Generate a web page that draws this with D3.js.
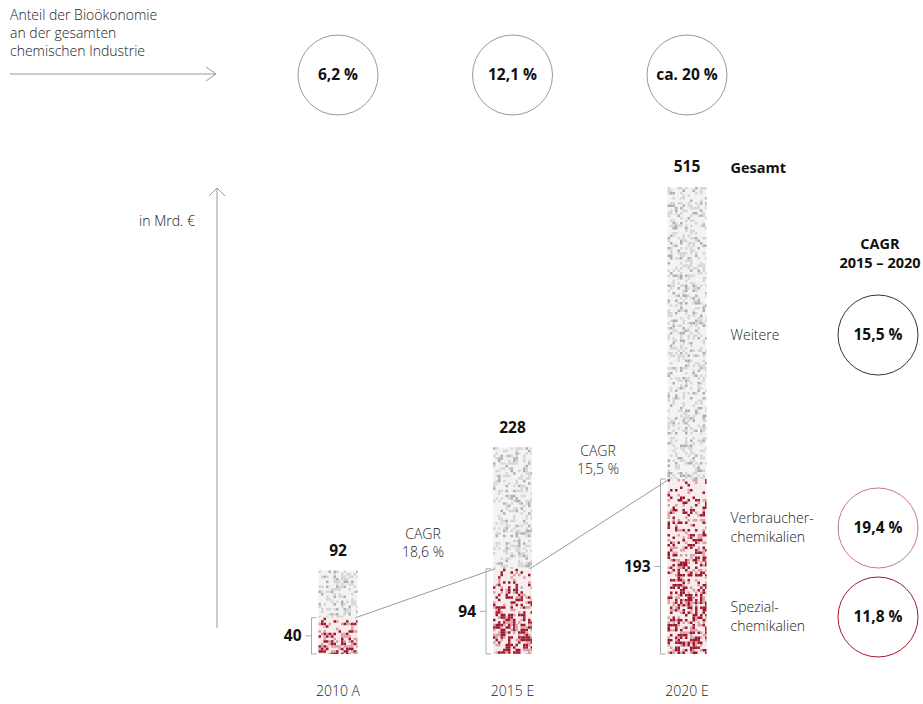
<!DOCTYPE html>
<html>
<head>
<meta charset="utf-8">
<script src="https://cdn.jsdelivr.net/npm/d3@7"></script>
<style>
  body { margin: 0; background: #fff; }
  svg { font-family: "Open Sans", "Noto Sans", sans-serif; }
  .lt { font-weight: 300; fill: #1a1a1a; }
  .bd { font-weight: 700; fill: #111; }
</style>
</head>
<body>
<svg id="chart" width="923" height="704"></svg>
<script>
// values
const years = ["2010 A", "2015 E", "2020 E"];
const totals = [92, 228, 515];
const chemicals = [40, 94, 193];
const bioShare = ["6,2 %", "12,1 %", "ca. 20 %"];
const cagrBetween = ["18,6 %", "15,5 %"];
const segmentNames = [["Weitere"], ["Verbraucher-", "chemikalien"], ["Spezial-", "chemikalien"]];
const segmentCagr = ["15,5 %", "19,4 %", "11,8 %"];

const svg = d3.select("#chart");
const baseY = 654, barW = 39;

const x = d3.scalePoint().domain(years).range([338, 687]);
const y = d3.scaleLinear().domain([0, 515]).range([baseY, 187]);

// deterministic hash for stipple texture
function hash(i, j, k) {
    let v = Math.sin(i * 12.9898 + j * 78.233 + k * 37.719) * 43758.5453;
    return v - Math.floor(v);
}

function lines(list, x0, y0, step, cls, size, anchor) {
    list.forEach((t, i) => {
        svg.append("text").attr("class", cls).attr("font-size", size)
            .attr("text-anchor", anchor || "start")
            .attr("x", x0).attr("y", y0 + i * step).attr("dy", "0.35em").text(t);
    });
}

// --- header text + arrow
lines(["Anteil der Bioökonomie", "an der gesamten", "chemischen Industrie"], 10, 15, 18, "lt", 14);
svg.append("line").attr("x1", 10).attr("x2", 216).attr("y1", 74).attr("y2", 74)
    .attr("stroke", "#999").attr("stroke-width", 1);
svg.append("path").attr("d", "M206,67 L216,74 L206,81").attr("fill", "none")
    .attr("stroke", "#999").attr("stroke-width", 1);

// share circles
const shareG = svg.selectAll("g.share").data(bioShare).enter().append("g")
    .attr("class", "share")
    .attr("transform", (d, i) => `translate(${x(years[i])},75)`);
shareG.append("circle").attr("r", 40).attr("fill", "none").attr("stroke", "#999").attr("stroke-width", 1);
shareG.append("text").attr("class", "bd").attr("font-size", 15.5).attr("text-anchor", "middle")
    .attr("dy", "0.35em").text(d => d);

// y axis arrow
svg.append("line").attr("x1", 217).attr("x2", 217).attr("y1", 188).attr("y2", baseY - 26)
    .attr("stroke", "#999").attr("stroke-width", 1);
svg.append("path").attr("d", "M209,196 L217,188 L225,196").attr("fill", "none")
    .attr("stroke", "#999").attr("stroke-width", 1);
svg.append("text").attr("class", "lt").attr("font-size", 14).attr("x", 195).attr("y", 221)
    .attr("text-anchor", "end").attr("dy", "0.35em").text("in Mrd. €");

// --- bars with stipple
const cell = 2.5;
years.forEach((yr, b) => {
    const x0 = x(yr) - barW / 2;
    const g = svg.append("g");
    const topT = y(totals[b]), topC = y(chemicals[b]);
    const cols = Math.ceil(barW / cell);
    // grey part
    const hG = topC - topT;
    g.append("rect").attr("x", x0).attr("y", topT).attr("width", barW).attr("height", hG).attr("fill", "#f3f3f3");
    for (let r = 0; r * cell < hG; r++) {
        for (let c = 0; c < cols; c++) {
            const h = hash(c, r, b + 1);
            if (h < 0.34) {
                g.append("rect").attr("x", x0 + c * cell).attr("y", topT + r * cell)
                    .attr("width", Math.min(cell, barW - c * cell)).attr("height", Math.min(cell, hG - r * cell))
                    .attr("fill", h < 0.1 ? "#b0b0b0" : "#d6d6d6");
            }
        }
    }
    // red part
    const hC = baseY - topC;
    g.append("rect").attr("x", x0).attr("y", topC).attr("width", barW).attr("height", hC).attr("fill", "#f7ecee");
    for (let r = 0; r * cell < hC; r++) {
        const t = (r * cell) / hC;
        for (let c = 0; c < cols; c++) {
            const h = hash(c + 50, r + 50, b + 7);
            const p = 0.2 + 0.5 * t;
            if (h < p) {
                g.append("rect").attr("x", x0 + c * cell).attr("y", topC + r * cell)
                    .attr("width", Math.min(cell, barW - c * cell)).attr("height", Math.min(cell, hC - r * cell))
                    .attr("fill", h < p * 0.6 ? "#a3192c" : "#dba0a6");
            }
        }
    }

    // bracket
    const bx = x0 - 7;
    g.append("path").attr("d", `M${bx + 5},${topC} H${bx} V${baseY} H${bx + 5}`)
        .attr("fill", "none").attr("stroke", "#aaa").attr("stroke-width", 1);
    const mid = (topC + baseY) / 2;
    g.append("line").attr("x1", bx - 6).attr("x2", bx).attr("y1", mid).attr("y2", mid)
        .attr("stroke", "#aaa").attr("stroke-width", 1);
    g.append("text").attr("class", "bd").attr("font-size", 15.5).attr("text-anchor", "end")
        .attr("x", bx - 10).attr("y", mid).attr("dy", "0.35em").text(chemicals[b]);

    // total label
    g.append("text").attr("class", "bd").attr("font-size", 15.5).attr("text-anchor", "middle")
        .attr("x", x(yr)).attr("y", topT - 20).attr("dy", "0.35em").text(totals[b]);

    // year label
    g.append("text").attr("class", "lt").attr("font-size", 14).attr("text-anchor", "middle")
        .attr("x", x(yr)).attr("y", 691).attr("dy", "0.35em").attr("fill", "#333").text(yr);
});

// connectors between chemicals tops
for (let i = 0; i < years.length - 1; i++) {
    svg.append("line")
        .attr("x1", x(years[i]) + barW / 2 - 2).attr("y1", y(chemicals[i]))
        .attr("x2", x(years[i + 1]) - barW / 2 + 2).attr("y2", y(chemicals[i + 1]))
        .attr("stroke", "#999").attr("stroke-width", 1);
}
const cagrPos = [[423, 534], [598, 451]];
cagrBetween.forEach((v, i) => {
    lines(["CAGR", v], cagrPos[i][0], cagrPos[i][1], 18, "lt", 14, "middle");
});

// --- right legend
const lastX = x(years[2]) + barW / 2;
svg.append("text").attr("class", "bd").attr("font-size", 14.5).attr("x", lastX + 24).attr("y", 168)
    .attr("dy", "0.35em").text("Gesamt");
lines(["CAGR", "2015 – 2020"], 880, 244, 19, "bd", 14.5, "middle");

const legY = [335, 518, 607];
const circY = [335, 528, 617];
const circCol = ["#333", "#c97a80", "#a3192c"];
segmentNames.forEach((names, i) => {
    lines(names, lastX + 24, legY[i], 19, "lt", 14);
    svg.append("circle").attr("cx", 878).attr("cy", circY[i]).attr("r", 40)
        .attr("fill", "none").attr("stroke", circCol[i]).attr("stroke-width", 1);
    svg.append("text").attr("class", "bd").attr("font-size", 15.5).attr("text-anchor", "middle")
        .attr("x", 878).attr("y", circY[i]).attr("dy", "0.35em").text(segmentCagr[i]);
});
</script>
</body>
</html>
